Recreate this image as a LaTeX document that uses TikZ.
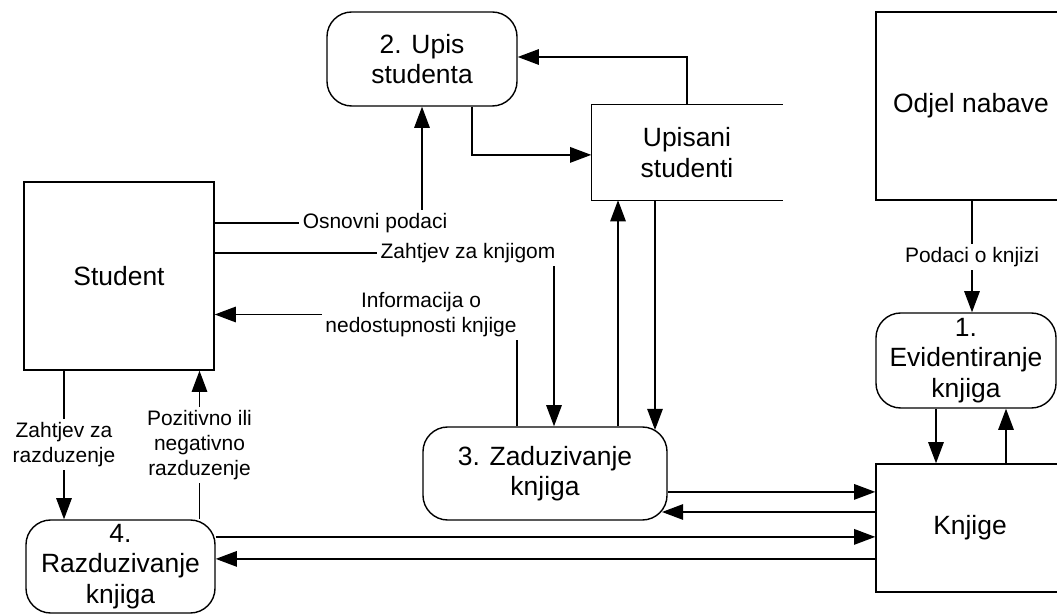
\documentclass[tikz,border=0pt]{standalone}
\usepackage{fontspec}
\setmainfont{Liberation Sans}
\usetikzlibrary{arrows.meta, positioning, calc}

\newcommand{\mainfs}{\fontsize{18.8}{21.5}\selectfont}
\newcommand{\lblfs}{\fontsize{14.9}{17.7}\selectfont}

\begin{document}
\begin{tikzpicture}[x=0.025cm, y=-0.025cm, line width=1pt,
    >={Triangle[length=15pt, width=11pt]},
    proc/.style={draw, rounded corners=0.62cm, align=center, font=\mainfs, inner sep=0pt},
    ent/.style={draw, align=center, font=\mainfs, inner sep=0pt},
    lbl/.style={align=center, font=\lblfs, inner sep=2pt}]
    % okvir slike
    \clip (0,0) rectangle (1057,615);

    % vanjski entiteti
    \node[ent, minimum width=4.75cm, minimum height=4.7cm] (stu) at (119,276) {Student};
    \node[ent, minimum width=4.75cm, minimum height=4.7cm] (odj) at (971,106) {Odjel nabave};
    \node[ent, minimum width=4.7cm, minimum height=3.2cm] (knj) at (970,528) {Knjige};

    % procesi
    \node[proc, minimum width=4.75cm, minimum height=2.35cm] (upis) at (422,59) {2. Upis\\studenta};
    \node[proc, minimum width=4.5cm, minimum height=2.375cm] (evid) at (966,360.5) {1.\\Evidentiranje\\knjiga};
    \node[proc, minimum width=6.1cm, minimum height=2.325cm] (zad) at (545,473.5) {3. Zaduzivanje\\knjiga};
    \node[proc, minimum width=4.725cm, minimum height=2.325cm] (razd) at (120.5,566.5) {4.\\Razduzivanje\\knjiga};

    % spremiste podataka (otvoreno s desne strane)
    \node[font=\mainfs, align=center, inner sep=0pt, minimum width=4.75cm, minimum height=2.35cm]
        (ust) at (687,152.5) {Upisani\\studenti};
    \draw (ust.north east) -- (ust.north west) -- (ust.south west) -- (ust.south east);

    % oznake tokova
    \node[lbl] (osn) at (375,223) {Osnovni podaci};
    \node[lbl] (zah) at (468,253) {Zahtjev za knjigom};
    \node[lbl] (inf) at (421,314.5) {Informacija o\\nedostupnosti knjige};
    \node[lbl] (pod) at (972,257) {Podaci o knjizi};
    \node[lbl] (zraz) at (64,444.5) {Zahtjev za\\razduzenje};
    \node[lbl] (poz) at (199.5,445) {Pozitivno ili\\negativno\\razduzenje};

    % Student -> Upis studenta
    \draw (stu.east |- osn) -- (osn.west);
    \draw[->] (osn.north -| upis.south) -- (upis.south);

    % Student -> Zaduzivanje
    \coordinate (zadA) at ([xshift=0.225cm]zad.north);
    \draw (stu.east |- zah) -- (zah.west);
    \draw[->] (zah.south -| zadA) -- (zadA);

    % Zaduzivanje -> Student
    \coordinate (zadB) at ([xshift=-0.7cm]zad.north);
    \draw (zadB) -- (zadB |- inf.south);
    \draw[->] (inf.west) -- (inf.west -| stu.east);

    % Zaduzivanje <-> Upisani studenti
    \coordinate (zadC) at ([xshift=1.825cm]zad.north);
    \coordinate (zadD) at (655,430);
    \draw[->] (zadC) -- (zadC |- ust.south);
    \draw[->] (zadD |- ust.south) -- (zadD);

    % Upis studenta <-> Upisani studenti
    \draw[->] ([xshift=1.25cm]upis.south) |- ([yshift=-0.06cm]ust.west);
    \draw[->] (ust.north) |- ([yshift=0.05cm]upis.east);

    % Odjel nabave -> Evidentiranje
    \draw (pod |- odj.south) -- (pod.north);
    \draw[->] (pod.south) -- (pod.south |- evid.north);

    % Evidentiranje <-> Knjige
    \coordinate (evA) at ([xshift=-0.75cm]evid.south);
    \coordinate (evB) at ([xshift=1cm]evid.south);
    \draw[->] (evA) -- (evA |- knj.north);
    \draw[->] (evB |- knj.north) -- (evB);

    % Zaduzivanje <-> Knjige
    \coordinate (zadE) at ([yshift=-0.46cm]zad.east);
    \coordinate (zadF) at (662,512);
    \draw[->] (zadE) -- (zadE -| knj.west);
    \draw[->] (zadF -| knj.west) -- (zadF);

    % Razduzivanje <-> Knjige
    \coordinate (razA) at ([yshift=0.74cm]razd.east);
    \coordinate (razB) at ([yshift=0.19cm]razd.east);
    \draw[->] (razA) -- (razA -| knj.west);
    \draw[->] (razB -| knj.west) -- (razB);

    % Student <-> Razduzivanje
    \coordinate (stuA) at ([xshift=-1.375cm]stu.south);
    \draw (stuA) -- (stuA |- zraz.north);
    \draw[->] (zraz.south) -- (zraz.south |- razd.north);
    \draw (poz.south |- razd.north) -- (poz.south);
    \draw[->] (poz.north) -- (poz.north |- stu.south);
\end{tikzpicture}
\end{document}
